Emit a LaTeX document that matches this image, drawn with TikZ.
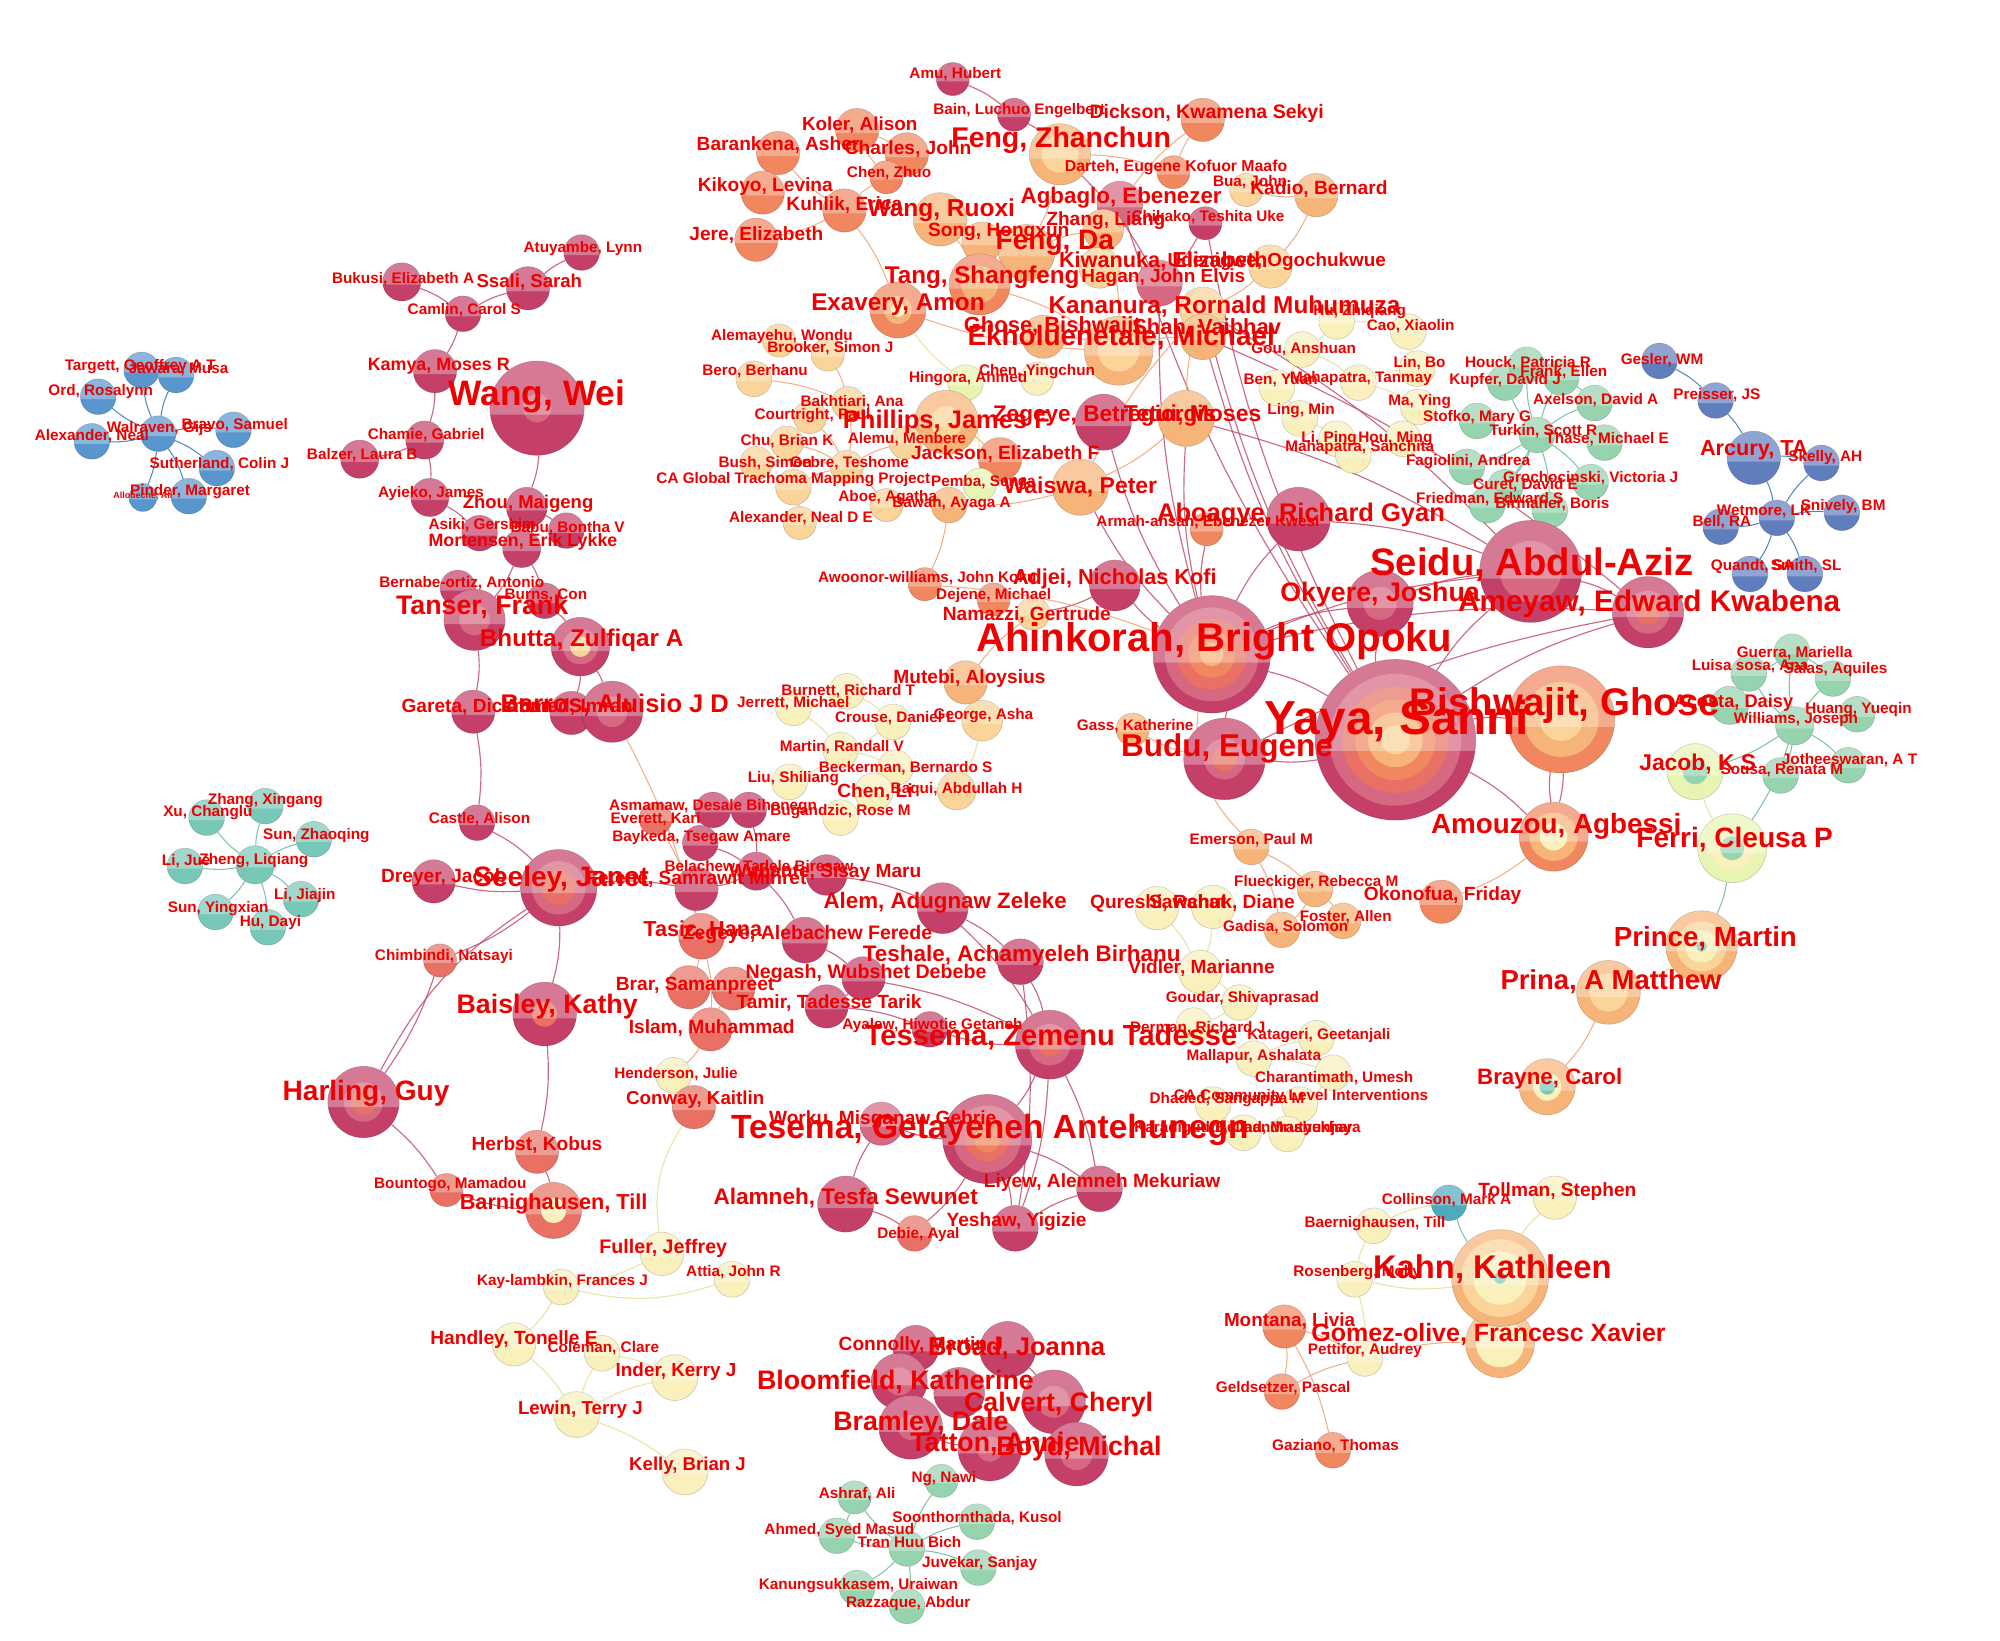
\documentclass[tikz,border=0pt]{standalone}
\usepackage{fontspec}
\setmainfont{Liberation Sans}
\usetikzlibrary{backgrounds}
\definecolor{labred}{RGB}{238,0,0}
\definecolor{crim}{RGB}{196,64,104}
\definecolor{crimL}{RGB}{214,104,130}
\definecolor{salm}{RGB}{232,112,100}
\definecolor{oran}{RGB}{240,135,95}
\definecolor{lora}{RGB}{247,180,120}
\definecolor{peach}{RGB}{250,212,152}
\definecolor{pyel}{RGB}{250,240,188}
\definecolor{ygrn}{RGB}{232,245,178}
\definecolor{mint}{RGB}{150,212,175}
\definecolor{tealc}{RGB}{120,200,185}
\definecolor{tealb}{RGB}{80,170,190}
\definecolor{blu}{RGB}{88,150,205}
\definecolor{blu2}{RGB}{96,125,190}
\definecolor{cEcr}{RGB}{190,70,100}
\definecolor{cEor}{RGB}{240,160,110}
\definecolor{cEyl}{RGB}{238,228,165}
\definecolor{cEgr}{RGB}{125,195,170}
\definecolor{cEbl}{RGB}{80,135,195}
\newcommand\Band[3]{\fill[white,opacity=.3] (#1,#2) ++(8:#3) arc[start angle=8,end angle=-188,radius=#3] -- cycle;}
\newcommand\Nd[5]{\node[nd,fill=#5,minimum size={2*#4}] (#1) at (#2,#3) {};\Band{#2}{#3}{#4}}
\newcommand\Nr[6]{\node[nd,fill=#5,minimum size={2*#4}] (#1) at (#2,#3) {};\foreach \fr/\cl in {#6}{\fill[\cl] (#2,#3) circle[radius={\fr*#4}];}\Band{#2}{#3}{#4}}
\newcommand\Lb[5]{\node[lab,font={\bfseries\fontsize{#4}{#4}\selectfont}] (L#1) at (#2,#3) {#5};}
\newcommand\Ed[3]{\draw[#1] (#2) to[bend left=8] (#3);}
\begin{document}
\begin{tikzpicture}[x=1pt,y=-1pt,
 nd/.style={circle,inner sep=0pt,draw=black,draw opacity=.18,line width=.5pt},
 lab/.style={inner sep=0pt,text=labred},
 ecr/.style={draw=cEcr,line width=.9pt,draw opacity=.8},
 eor/.style={draw=cEor,line width=.8pt,draw opacity=.85},
 eyl/.style={draw=cEyl,line width=.9pt},
 egr/.style={draw=cEgr,line width=.8pt},
 ebl/.style={draw=cEbl,line width=.8pt}]
\useasboundingbox (0,0) rectangle (1568,1286);
\begin{scope}[on background layer]
\fill[white] (0,0) rectangle (1568,1286);
\end{scope}
% ---------- nodes ----------
% blue left
\Nd{walraven}{124}{340}{14}{blu}
\Nd{targett}{111}{290}{14}{blu}
\Nd{jawara}{138}{294}{14}{blu}
\Nd{ord}{77}{311}{14}{blu}
\Nd{alexn}{72}{346}{14}{blu}
\Nd{bravo}{183}{337}{14}{blu}
\Nd{suther}{170}{367}{14}{blu}
\Nd{pinder}{148}{389}{14}{blu}
\Nd{allou}{112}{390}{11}{blu}
% crimson upper left
\Nd{bukusi}{315}{221}{15}{crim}
\Nd{camlin}{363}{246}{14}{crim}
\Nd{ssali}{414}{226}{17}{crim}
\Nd{atuy}{456}{198}{14}{crim}
\Nd{kamya}{341}{291}{17}{crim}
\Nr{wangwei}{421}{320}{37}{crim}{0.3/crimL}
\Nd{chamie}{333}{345}{15}{crim}
\Nd{balzer}{282}{360}{15}{crim}
\Nd{ayieko}{337}{390}{15}{crim}
\Nd{zhou}{413}{398}{16}{crim}
\Nd{asiki}{376}{418}{14}{crim}
\Nd{babu}{444}{416}{14}{crim}
\Nd{morten}{409}{430}{15}{crim}
\Nd{bernabe}{359}{461}{14}{crim}
\Nd{burns}{427}{471}{14}{crim}
\Nr{tanser}{372}{486}{24}{crim}{0.5/crimL}
\Nr{bhutta}{455}{507}{23}{crim}{0.6/crimL,0.35/peach}
\Nd{gareta}{371}{558}{17}{crim}
\Nd{ahmedi}{448}{559}{17}{crim}
\Nr{barros}{480}{558}{24}{crim}{0.5/crimL}
\Nd{castle}{374}{645}{14}{crim}
\Nd{dreyer}{340}{691}{17}{crim}
\Nr{seeley}{438}{696}{30}{crim}{0.7/crimL,0.45/salm}
\Nd{chimb}{345}{753}{13}{salm}
\Nr{baisley}{427}{795}{25}{crim}{0.4/salm}
\Nr{harling}{285}{864}{28}{crim}{0.55/crimL,0.35/salm}
\Nd{bount}{350}{933}{13}{salm}
\Nd{herbst}{421}{903}{17}{salm}
\Nr{barnig}{434}{949}{22}{salm}{0.45/pyel}
% teal left
\Nd{zhengl}{200}{678}{15}{tealc}
\Nd{xu}{162}{641}{14}{tealc}
\Nd{zhangx}{208}{632}{14}{tealc}
\Nd{sunz}{246}{658}{14}{tealc}
\Nd{liju}{145}{679}{14}{tealc}
\Nd{lijia}{236}{705}{14}{tealc}
\Nd{suny}{169}{715}{14}{tealc}
\Nd{hudayi}{210}{727}{14}{tealc}
% top
\Nd{amu}{747}{62}{13}{crim}
\Nd{bain}{795}{90}{13}{crim}
\Nr{fengz}{831}{121}{24}{lora}{0.6/peach}
\Nd{dickson}{943}{94}{17}{oran}
\Nd{koler}{672}{102}{17}{oran}
\Nd{barank}{610}{120}{17}{oran}
\Nd{charles}{711}{121}{17}{oran}
\Nd{chenzhuo}{695}{139}{13}{oran}
\Nd{kikoyo}{598}{151}{17}{oran}
\Nd{kuhlik}{662}{165}{17}{oran}
\Nd{wangruoxi}{737}{172}{21}{lora}
\Nd{song}{770}{190}{16}{lora}
\Nd{jere}{593}{188}{17}{oran}
\Nd{darteh}{920}{135}{13}{oran}
\Nd{bua}{977}{149}{13}{peach}
\Nd{kadio}{1032}{153}{17}{lora}
\Nd{agbaglo}{878}{160}{18}{crimL}
\Nd{chikako}{945}{175}{13}{crim}
\Nd{zhangl}{865}{180}{16}{lora}
\Nd{fengda}{805}{198}{22}{lora}
\Nd{kiwan}{862}{210}{16}{peach}
\Nd{udenigwe}{996}{209}{17}{peach}
\Nd{hagan}{909}{222}{18}{crimL}
\Nr{tang}{768}{223}{24}{oran}{0.6/lora}
\Nr{exavery}{704}{243}{22}{oran}{0.5/lora,0.25/pyel}
\Nd{kananura}{943}{243}{18}{peach}
\Nd{ghose}{818}{264}{17}{lora}
\Nd{shah}{943}{264}{18}{lora}
\Nr{ekhol}{877}{275}{27}{lora}{0.6/peach}
% trachoma
\Nd{alemay}{611}{267}{13}{peach}
\Nd{brooker}{649}{278}{13}{peach}
\Nd{bero}{591}{297}{14}{peach}
\Nd{hingora}{757}{300}{14}{ygrn}
\Nd{chenying}{813}{297}{13}{pyel}
\Nd{bakht}{665}{316}{13}{peach}
\Nd{courtr}{635}{327}{13}{peach}
\Nr{phillips}{742}{331}{25}{lora}{0.5/peach}
\Nd{zegeyeb}{865}{331}{22}{crim}
\Nd{tetui}{930}{328}{22}{lora}
\Nd{chu}{617}{347}{13}{peach}
\Nd{alemu}{710}{347}{13}{peach}
\Nd{jackson}{784}{360}{17}{oran}
\Nd{bush}{593}{363}{13}{peach}
\Nd{gebre}{664}{366}{13}{peach}
\Nd{cagt}{622}{382}{14}{peach}
\Nd{pemba}{768}{380}{13}{ygrn}
\Nd{aboe}{695}{396}{13}{peach}
\Nd{bawah}{744}{396}{14}{lora}
\Nd{alexnde}{627}{410}{13}{peach}
\Nd{waiswa}{847}{382}{22}{lora}
\Nd{aboagye}{1018}{407}{25}{crim}
\Nd{armah}{946}{415}{13}{oran}
% chinese pale
\Nd{huzq}{1048}{252}{14}{pyel}
\Nd{cao}{1104}{260}{14}{pyel}
\Nd{gou}{1021}{274}{14}{pyel}
\Nd{linbo}{1111}{289}{14}{pyel}
\Nd{ben}{1001}{304}{14}{pyel}
\Nd{maht}{1065}{300}{14}{pyel}
\Nd{maying}{1112}{319}{14}{pyel}
\Nd{ling}{1019}{328}{14}{pyel}
\Nd{liping}{1048}{344}{14}{pyel}
\Nd{houming}{1100}{344}{14}{pyel}
\Nd{mahs}{1061}{357}{14}{pyel}
% green depression
\Nd{kupfer}{1180}{300}{14}{mint}
\Nd{houck}{1197}{286}{14}{mint}
\Nd{frank}{1224}{296}{14}{mint}
\Nd{axelson}{1250}{316}{14}{mint}
\Nd{stofko}{1158}{330}{14}{mint}
\Nd{turkin}{1205}{341}{14}{mint}
\Nd{thase}{1258}{347}{14}{mint}
\Nd{fagio}{1150}{366}{14}{mint}
\Nd{curet}{1180}{382}{14}{mint}
\Nd{groch}{1247}{378}{14}{mint}
\Nd{friedman}{1166}{396}{14}{mint}
\Nd{birmaher}{1215}{400}{14}{mint}
% blue right
\Nd{gesler}{1301}{283}{14}{blu2}
\Nd{preisser}{1345}{314}{14}{blu2}
\Nd{arcury}{1375}{359}{21}{blu2}
\Nd{skelly}{1428}{363}{14}{blu2}
\Nd{wetmore}{1393}{406}{14}{blu2}
\Nd{snively}{1444}{402}{14}{blu2}
\Nd{bell}{1349}{413}{14}{blu2}
\Nd{quandt}{1372}{450}{14}{blu2}
\Nd{smith}{1415}{450}{14}{blu2}
% central
\Nd{adjei}{874}{459}{20}{crim}
\Nd{awoonor}{725}{458}{13}{oran}
\Nd{dejene}{779}{470}{13}{oran}
\Nd{namazzi}{810}{481}{13}{peach}
\Nr{seidu}{1200}{448}{40}{crim}{0.6/crimL}
\Nr{okyere}{1082}{473}{26}{crim}{0.5/crimL}
\Nr{ameyaw}{1292}{480}{28}{crim}{0.6/crimL,0.35/salm}
\Nr{ahink}{950}{513}{46}{crim}{0.8/crimL,0.6/salm,0.4/oran,0.2/lora}
\Nr{bishw}{1224}{564}{42}{oran}{0.7/lora,0.4/peach}
\Nr{yaya}{1094}{580}{63}{crim}{0.82/crimL,0.66/salm,0.5/oran,0.34/lora,0.18/peach}
\Nr{budu}{960}{595}{32}{crim}{0.5/crimL,0.3/salm}
\Nd{gass}{888}{572}{13}{lora}
\Nr{amouzou}{1218}{656}{27}{oran}{0.7/lora,0.4/pyel}
\Nd{okonofua}{1130}{707}{17}{oran}
% pale central
\Nd{mutebi}{757}{535}{17}{lora}
\Nd{burnett}{664}{542}{14}{pyel}
\Nd{jerrett}{622}{555}{14}{pyel}
\Nd{crouse}{700}{566}{14}{pyel}
\Nd{george}{770}{565}{16}{peach}
\Nd{martin}{659}{588}{14}{pyel}
\Nd{liush}{619}{613}{14}{pyel}
\Nd{beckerman}{702}{602}{14}{pyel}
\Nd{chenli}{685}{621}{15}{pyel}
\Nd{baqui}{750}{620}{15}{peach}
\Nd{bugan}{659}{641}{14}{pyel}
% ethiopia
\Nd{addisa}{559}{635}{14}{crim}
\Nd{addisb}{587}{635}{14}{crim}
\Nd{everett}{514}{642}{13}{salm}
\Nd{baykeda}{549}{661}{14}{crim}
\Nd{fetene}{546}{697}{17}{crim}
\Nd{belachew}{593}{683}{15}{crim}
\Nd{sisay}{648}{686}{16}{crim}
\Nd{alem}{739}{712}{20}{crim}
\Nd{tasic}{550}{734}{18}{salm}
\Nd{zegeyea}{631}{737}{18}{crim}
\Nd{teshale}{800}{754}{18}{crim}
\Nd{negash}{677}{767}{17}{crim}
\Nd{brar}{540}{774}{17}{salm}
\Nd{brarb}{575}{775}{17}{salm}
\Nd{tamir}{648}{789}{17}{crim}
\Nd{islam}{557}{807}{17}{salm}
\Nd{ayalew}{729}{807}{14}{crim}
\Nr{tessema}{823}{819}{27}{crim}{0.6/crimL,0.35/salm}
\Nd{henderson}{528}{843}{14}{pyel}
\Nd{conway}{544}{868}{17}{salm}
\Nd{worku}{691}{881}{17}{crimL}
\Nr{tesema}{774}{893}{35}{crim}{0.75/crimL,0.5/salm,0.3/oran}
\Nd{alamneh}{663}{944}{22}{crim}
\Nd{debie}{717}{967}{14}{salm}
\Nd{yeshaw}{796}{963}{18}{crim}
\Nd{liyew}{862}{932}{18}{crim}
% lower pale
\Nd{emerson}{981}{664}{14}{lora}
\Nd{flueck}{1031}{697}{14}{lora}
\Nd{qureshi}{907}{712}{17}{pyel}
\Nd{sawchuk}{951}{711}{17}{pyel}
\Nd{foster}{1053}{722}{14}{lora}
\Nd{gadisa}{1005}{729}{14}{lora}
\Nd{vidler}{941}{762}{17}{pyel}
\Nd{goudar}{972}{786}{14}{pyel}
\Nd{derman}{936}{804}{14}{pyel}
\Nd{katageri}{1032}{814}{14}{pyel}
\Nd{mallapur}{983}{830}{14}{pyel}
\Nd{charant}{1045}{841}{14}{pyel}
\Nd{dh}{951}{866}{14}{pyel}
\Nd{caclip}{1019}{866}{14}{pyel}
\Nd{karad}{975}{888}{14}{pyel}
\Nd{bellad}{1009}{889}{14}{pyel}
% right lower
\Nd{guerra}{1405}{511}{14}{mint}
\Nd{luisa}{1371}{528}{14}{mint}
\Nd{salas}{1437}{532}{14}{mint}
\Nd{acosta}{1356}{553}{15}{mint}
\Nd{williams}{1407}{569}{15}{mint}
\Nd{huang}{1456}{560}{14}{mint}
\Nr{jacob}{1329}{605}{22}{ygrn}{0.45/mint}
\Nd{sousa}{1396}{608}{14}{mint}
\Nd{jothe}{1449}{600}{14}{mint}
\Nr{ferri}{1358}{665}{27}{ygrn}{0.65/pyel,0.35/mint}
\Nr{prince}{1334}{742}{28}{lora}{0.7/peach,0.45/pyel,0.15/tealc}
\Nr{prina}{1261}{778}{25}{lora}{0.6/peach}
\Nr{brayne}{1213}{852}{22}{lora}{0.5/pyel,0.28/tealc}
% Kahn
\Nd{collinson}{1136}{943}{14}{tealb}
\Nd{tollman}{1219}{939}{17}{pyel}
\Nd{baern}{1077}{961}{14}{pyel}
\Nd{rosenberg}{1062}{1003}{14}{pyel}
\Nr{gomez}{1176}{1053}{27}{lora}{0.7/pyel}
\Nr{kahn}{1176}{1002}{38}{lora}{0.8/peach,0.55/pyel,0.12/tealc}
\Nd{montana}{1007}{1040}{17}{oran}
\Nd{pettifor}{1070}{1065}{14}{pyel}
\Nd{gelds}{1005}{1091}{14}{oran}
\Nd{gaziano}{1045}{1137}{14}{oran}
% bottom left pale
\Nd{kay}{440}{1009}{14}{pyel}
\Nd{fuller}{519}{983}{17}{pyel}
\Nd{attia}{574}{1003}{14}{pyel}
\Nd{handley}{403}{1054}{17}{pyel}
\Nd{coleman}{472}{1061}{14}{pyel}
\Nd{inder}{529}{1080}{18}{pyel}
\Nd{lewin}{452}{1109}{18}{pyel}
\Nd{kelly}{537}{1154}{18}{pyel}
% bottom crimson
\Nd{connolly}{718}{1057}{18}{crim}
\Nd{joanna}{790}{1058}{22}{crim}
\Nr{bloomf}{705}{1083}{22}{crim}{0.5/crimL}
\Nd{midb}{752}{1092}{20}{crim}
\Nr{calvert}{826}{1099}{25}{crim}{0.5/crimL}
\Nr{bramley}{714}{1119}{25}{crim}{0.4/crimL}
\Nr{tatton}{776}{1136}{25}{crim}{0.4/crimL}
\Nr{boyd}{844}{1140}{25}{crim}{0.5/crimL}
% green bottom
\Nd{ng}{738}{1161}{13}{mint}
\Nd{ashraf}{670}{1174}{13}{mint}
\Nd{soon}{766}{1193}{14}{mint}
\Nd{ahmeds}{656}{1204}{14}{mint}
\Nd{tran}{711}{1214}{14}{mint}
\Nd{juvekar}{767}{1229}{14}{mint}
\Nd{kanung}{672}{1245}{14}{mint}
\Nd{razz}{711}{1259}{14}{mint}
% ---------- edges ----------
\begin{scope}[on background layer]
\foreach \b in {targett,jawara,ord,alexn,bravo,suther,pinder,allou} {\Ed{ebl}{walraven}{\b}}
\foreach \b in {xu,zhangx,sunz,liju,lijia,suny,hudayi} {\Ed{egr}{zhengl}{\b}}
\Ed{ecr}{bukusi}{camlin} \Ed{ecr}{camlin}{ssali} \Ed{ecr}{ssali}{atuy} \Ed{ecr}{camlin}{kamya}
\Ed{ecr}{kamya}{chamie} \Ed{ecr}{chamie}{balzer} \Ed{ecr}{chamie}{ayieko} \Ed{ecr}{wangwei}{zhou}
\Ed{ecr}{ayieko}{asiki} \Ed{ecr}{zhou}{babu} \Ed{ecr}{zhou}{morten} \Ed{ecr}{morten}{tanser}
\Ed{ecr}{tanser}{bernabe} \Ed{ecr}{morten}{burns} \Ed{ecr}{burns}{bhutta} \Ed{ecr}{bhutta}{barros}
\Ed{ecr}{bhutta}{ahmedi} \Ed{ecr}{tanser}{gareta} \Ed{ecr}{gareta}{castle} \Ed{ecr}{castle}{seeley}
\Ed{ecr}{seeley}{dreyer} \Ed{ecr}{seeley}{chimb} \Ed{ecr}{seeley}{baisley} \Ed{ecr}{seeley}{fetene}
\Ed{ecr}{chimb}{harling} \draw[ecr] (harling) to[bend left=14] (seeley);
\Ed{ecr}{harling}{bount} \Ed{ecr}{baisley}{herbst} \Ed{ecr}{herbst}{barnig} \Ed{ecr}{barnig}{bount}
\draw[eor] (barros) to[bend left=6] (tasic);
\Ed{ecr}{addisa}{addisb} \Ed{ecr}{addisa}{baykeda} \Ed{ecr}{addisb}{belachew} \Ed{ecr}{baykeda}{belachew}
\Ed{ecr}{belachew}{fetene} \Ed{ecr}{belachew}{sisay} \Ed{ecr}{belachew}{zegeyea} \Ed{ecr}{sisay}{alem}
\Ed{ecr}{alem}{teshale} \Ed{ecr}{teshale}{tessema} \Ed{ecr}{zegeyea}{negash} \Ed{ecr}{negash}{tamir}
\Ed{ecr}{negash}{tessema} \Ed{ecr}{tamir}{ayalew} \Ed{ecr}{tessema}{ayalew} \Ed{ecr}{tessema}{tesema}
\Ed{ecr}{tessema}{yeshaw} \Ed{ecr}{tesema}{worku} \Ed{ecr}{tesema}{liyew} \Ed{ecr}{tesema}{yeshaw}
\Ed{ecr}{yeshaw}{liyew} \Ed{ecr}{alamneh}{worku} \Ed{ecr}{alamneh}{debie} \Ed{ecr}{tesema}{debie}
\Ed{ecr}{tessema}{liyew} \Ed{ecr}{teshale}{yeshaw} \Ed{ecr}{alem}{tessema}
\Ed{eor}{tasic}{islam} \Ed{eor}{tasic}{brar} \Ed{eor}{brar}{brarb} \Ed{eor}{islam}{brarb}
\Ed{eor}{islam}{henderson} \Ed{eor}{henderson}{conway} \Ed{eor}{everett}{tasic}
\draw[eyl] (conway) to[bend right=20] (fuller);
\Ed{eyl}{fuller}{kay} \draw[eyl] (kay) to[bend right=15] (attia); \Ed{eyl}{kay}{handley} \Ed{eyl}{handley}{lewin}
\Ed{eyl}{lewin}{coleman} \Ed{eyl}{lewin}{inder} \Ed{eyl}{lewin}{kelly} \Ed{eyl}{coleman}{inder}
\foreach \b in {yaya,budu,seidu,okyere,ameyaw,aboagye,adjei,zegeyeb,tetui,hagan,armah,waiswa} {\Ed{ecr}{ahink}{\b}}
\foreach \b in {bishw,budu,seidu,ameyaw,okyere,kananura,shah,agbaglo,chikako,amouzou} {\Ed{ecr}{yaya}{\b}}
\Ed{ecr}{seidu}{ameyaw} \Ed{ecr}{okyere}{seidu} \Ed{ecr}{aboagye}{seidu} \Ed{ecr}{adjei}{namazzi}
\Ed{ecr}{kananura}{seidu} \Ed{ecr}{shah}{ameyaw} \Ed{ecr}{tetui}{seidu} \Ed{ecr}{fengz}{hagan}
\Ed{ecr}{chikako}{hagan} \Ed{ecr}{budu}{ameyaw}
\draw[ecr] (bishw) to[bend left=6] (amouzou); \draw[ecr] (bishw) to[bend right=8] (amouzou);
\Ed{eor}{amouzou}{okonofua} \draw[eor] (ahink) to[bend right=25] (emerson); \Ed{eor}{awoonor}{ahink} \Ed{eor}{budu}{gass}
\Ed{eyl}{mutebi}{george} \Ed{eyl}{george}{baqui} \Ed{eyl}{burnett}{jerrett} \Ed{eyl}{burnett}{crouse}
\Ed{eyl}{crouse}{martin} \Ed{eyl}{martin}{liush} \Ed{eyl}{martin}{beckerman} \Ed{eyl}{beckerman}{chenli}
\Ed{eyl}{chenli}{baqui} \Ed{eyl}{chenli}{bugan} \Ed{eyl}{jerrett}{martin} \Ed{eor}{mutebi}{namazzi}
\Ed{eor}{emerson}{flueck} \Ed{eor}{flueck}{foster} \Ed{eor}{flueck}{gadisa} \Ed{eor}{emerson}{gadisa}
\Ed{eyl}{qureshi}{sawchuk} \Ed{eyl}{qureshi}{vidler} \Ed{eyl}{sawchuk}{vidler} \Ed{eyl}{vidler}{goudar}
\Ed{eyl}{goudar}{derman} \Ed{eyl}{goudar}{mallapur} \Ed{eyl}{derman}{mallapur} \Ed{eyl}{mallapur}{katageri}
\Ed{eyl}{mallapur}{charant} \Ed{eyl}{charant}{caclip} \Ed{eyl}{dh}{caclip} \Ed{eyl}{karad}{bellad} \Ed{eyl}{karad}{dh}
\Ed{eor}{alemay}{brooker} \Ed{eor}{brooker}{bakht} \Ed{eor}{bero}{bakht} \Ed{eor}{bakht}{gebre}
\Ed{eor}{courtr}{gebre} \Ed{eor}{chu}{gebre} \Ed{eor}{bush}{gebre} \Ed{eor}{cagt}{gebre}
\Ed{eor}{gebre}{alemu} \Ed{eor}{gebre}{aboe} \Ed{eor}{aboe}{bawah} \Ed{eor}{cagt}{alexnde}
\Ed{eor}{bawah}{awoonor} \Ed{eor}{alemu}{phillips} \Ed{eor}{phillips}{jackson} \Ed{eor}{jackson}{pemba}
\Ed{eor}{tetui}{waiswa} \Ed{eor}{waiswa}{kananura} \Ed{eor}{tetui}{kananura} \Ed{eyl}{hingora}{exavery}
\Ed{eyl}{hingora}{pemba} \Ed{eor}{waiswa}{bawah}
\Ed{eor}{kuhlik}{exavery} \Ed{eor}{kuhlik}{jere} \Ed{eor}{kuhlik}{barank} \Ed{eor}{barank}{kikoyo}
\Ed{eor}{kuhlik}{chenzhuo} \Ed{eor}{chenzhuo}{koler} \Ed{eor}{koler}{charles} \Ed{eor}{chenzhuo}{charles}
\Ed{eor}{wangruoxi}{tang} \Ed{eor}{tang}{song} \Ed{eor}{wangruoxi}{song} \Ed{ecr}{amu}{bain}
\Ed{ecr}{bain}{fengz} \Ed{eor}{fengz}{darteh} \Ed{eor}{fengz}{fengda} \Ed{eor}{fengda}{zhangl}
\Ed{eor}{darteh}{dickson} \Ed{eor}{agbaglo}{dickson} \Ed{eor}{kadio}{udenigwe} \Ed{eor}{kadio}{bua}
\Ed{eor}{udenigwe}{kananura} \Ed{eor}{hagan}{kiwan} \Ed{eor}{kiwan}{kananura} \Ed{eor}{ghose}{ekhol}
\Ed{eor}{ekhol}{shah} \Ed{eor}{ekhol}{exavery} \Ed{eor}{tang}{ekhol} \Ed{eor}{zhangl}{ekhol}
\Ed{eyl}{huzq}{cao} \Ed{eyl}{huzq}{gou} \Ed{eyl}{gou}{ben} \Ed{eyl}{gou}{maht} \Ed{eyl}{maht}{linbo}
\Ed{eyl}{linbo}{cao} \Ed{eyl}{maht}{maying} \Ed{eyl}{ling}{liping} \Ed{eyl}{liping}{houming}
\Ed{eyl}{houming}{mahs} \Ed{eyl}{mahs}{liping} \Ed{eyl}{ben}{ling} \Ed{eyl}{maying}{houming}
\foreach \b in {kupfer,stofko,frank,axelson,thase,houck,fagio,curet,groch,birmaher,friedman} {\Ed{egr}{turkin}{\b}}
\Ed{egr}{kupfer}{houck} \Ed{egr}{frank}{axelson}
\Ed{ebl}{gesler}{preisser} \Ed{ebl}{preisser}{arcury} \Ed{ebl}{arcury}{wetmore} \Ed{ebl}{arcury}{skelly}
\Ed{ebl}{wetmore}{skelly} \Ed{ebl}{wetmore}{snively} \Ed{ebl}{wetmore}{bell} \Ed{ebl}{wetmore}{quandt} \Ed{ebl}{wetmore}{smith}
\foreach \b in {guerra,luisa,salas,acosta,huang,jothe,sousa,jacob,ferri} {\Ed{egr}{williams}{\b}}
\Ed{egr}{guerra}{luisa} \Ed{egr}{guerra}{salas}
\Ed{eyl}{ferri}{jacob} \Ed{egr}{ferri}{prince} \Ed{eyl}{prince}{prina} \Ed{eor}{prina}{brayne}
\Ed{egr}{kahn}{collinson} \Ed{eyl}{kahn}{tollman} \draw[eyl] (kahn) to[bend left=10] (rosenberg); \Ed{eor}{kahn}{gomez}
\Ed{eyl}{rosenberg}{baern} \Ed{eyl}{baern}{collinson} \Ed{eyl}{rosenberg}{pettifor} \Ed{eor}{montana}{pettifor}
\Ed{eor}{montana}{gelds} \Ed{eor}{montana}{gaziano} \Ed{eor}{pettifor}{gomez} \Ed{eor}{gelds}{pettifor}
\Ed{ecr}{boyd}{calvert} \Ed{ecr}{tatton}{bramley} \Ed{ecr}{bloomf}{connolly} \Ed{ecr}{joanna}{calvert}
\foreach \b in {ng,ashraf,soon,ahmeds,juvekar,kanung,razz} {\Ed{egr}{tran}{\b}}
\Ed{egr}{ashraf}{ahmeds}
\end{scope}
% ---------- labels ----------
\Lb{targett}{110}{287}{12}{Targett, Geoffrey A T}
\Lb{jawara}{140}{290}{12}{Jawara, Musa}
\Lb{ord}{79}{307}{12}{Ord, Rosalynn}
\Lb{alexn}{72}{342}{12}{Alexander, Neal}
\Lb{bravo}{184}{333}{12}{Bravo, Samuel}
\Lb{walraven}{125}{336}{12}{Walraven, Gijs}
\Lb{suther}{172}{364}{12}{Sutherland, Colin J}
\Lb{pinder}{149}{385}{12}{Pinder, Margaret}
\Lb{allou}{112}{389}{7}{Alloueche, Ali}
\Lb{bukusi}{316}{219}{12}{Bukusi, Elizabeth A}
\Lb{camlin}{364}{243}{12}{Camlin, Carol S}
\Lb{ssali}{415}{221}{14.6}{Ssali, Sarah}
\Lb{atuy}{457}{195}{12}{Atuyambe, Lynn}
\Lb{kamya}{344}{287}{14}{Kamya, Moses R}
\Lb{wangwei}{421}{311}{27.7}{Wang, Wei}
\Lb{chamie}{334}{341}{12}{Chamie, Gabriel}
\Lb{balzer}{284}{357}{12}{Balzer, Laura B}
\Lb{ayieko}{338}{387}{12}{Ayieko, James}
\Lb{zhou}{414}{395}{14.5}{Zhou, Maigeng}
\Lb{morten}{410}{425}{14}{Mortensen, Erik Lykke}
\Lb{asiki}{378}{412}{12}{Asiki, Gershim}
\Lb{babu}{445}{414}{12}{Babu, Bontha V}
\Lb{bernabe}{362}{457}{12}{Bernabe-ortiz, Antonio}
\Lb{tanser}{378}{476}{21}{Tanser, Frank}
\Lb{burns}{428}{467}{12}{Burns, Con}
\Lb{bhutta}{456}{502}{19}{Bhutta, Zulfiqar A}
\Lb{barros}{482}{553}{20}{Barros, Aluisio J D}
\Lb{gareta}{374}{554}{15}{Gareta, Dickman}
\Lb{ahmedi}{446}{554}{15}{Ahmed, Imran}
\Lb{castle}{376}{642}{12}{Castle, Alison}
\Lb{dreyer}{348}{688}{15}{Dreyer, Jacob}
\Lb{seeley}{440}{689}{22}{Seeley, Janet}
\Lb{chimb}{348}{750}{12}{Chimbindi, Natsayi}
\Lb{baisley}{429}{789}{21}{Baisley, Kathy}
\Lb{harling}{287}{857}{22}{Harling, Guy}
\Lb{bount}{353}{929}{12}{Bountogo, Mamadou}
\Lb{herbst}{421}{898}{15}{Herbst, Kobus}
\Lb{barnig}{434}{944}{17}{Barnighausen, Till}
\Lb{xu}{163}{637}{12}{Xu, Changlu}
\Lb{zhangx}{208}{628}{12}{Zhang, Xingang}
\Lb{sunz}{248}{655}{12}{Sun, Zhaoqing}
\Lb{liju}{146}{675}{12}{Li, Jue}
\Lb{zhengl}{199}{675}{12}{Zheng, Liqiang}
\Lb{lijia}{239}{702}{12}{Li, Jiajin}
\Lb{suny}{171}{712}{12}{Sun, Yingxian}
\Lb{hudayi}{212}{723}{12}{Hu, Dayi}
\Lb{amu}{749}{58}{12}{Amu, Hubert}
\Lb{bain}{799}{87}{12}{Bain, Luchuo Engelbert}
\Lb{dickson}{946}{89}{15.3}{Dickson, Kwamena Sekyi}
\Lb{fengz}{832}{110}{22.3}{Feng, Zhanchun}
\Lb{koler}{674}{98}{14.8}{Koler, Alison}
\Lb{charles}{712}{117}{15}{Charles, John}
\Lb{barank}{610}{114}{15}{Barankena, Asher}
\Lb{chenzhuo}{697}{136}{12}{Chen, Zhuo}
\Lb{kikoyo}{600}{146}{15}{Kikoyo, Levina}
\Lb{wangruoxi}{738}{165}{19.2}{Wang, Ruoxi}
\Lb{kuhlik}{662}{161}{15}{Kuhlik, Erica}
\Lb{fengda}{827}{190}{22}{Feng, Da}
\Lb{song}{783}{182}{15}{Song, Hongxun}
\Lb{jere}{593}{184}{15}{Jere, Elizabeth}
\Lb{darteh}{922}{131}{12.4}{Darteh, Eugene Kofuor Maafo}
\Lb{kadio}{1034}{148}{15}{Kadio, Bernard}
\Lb{bua}{980}{143}{12}{Bua, John}
\Lb{agbaglo}{879}{155}{17.5}{Agbaglo, Ebenezer}
\Lb{zhangl}{867}{173}{15}{Zhang, Liang}
\Lb{chikako}{947}{170}{12}{Chikako, Teshita Uke}
\Lb{kiwan}{912}{205}{17}{Kiwanuka, Elizabeth}
\Lb{udenigwe}{1001}{205}{14.8}{Udenigwe, Ogochukwue}
\Lb{tang}{770}{217}{19}{Tang, Shangfeng}
\Lb{hagan}{912}{218}{14.9}{Hagan, John Elvis}
\Lb{exavery}{704}{239}{19}{Exavery, Amon}
\Lb{kananura}{960}{240}{19.1}{Kananura, Rornald Muhumuza}
\Lb{ekhol}{879}{265}{21.9}{Ekholuenetale, Michael}
\Lb{shah}{946}{257}{17.2}{Shah, Vaibhav}
\Lb{ghose}{825}{256}{17.2}{Ghose, Bishwajit}
\Lb{alemay}{613}{264}{12}{Alemayehu, Wondu}
\Lb{brooker}{651}{273}{12}{Brooker, Simon J}
\Lb{bero}{592}{291}{12}{Bero, Berhanu}
\Lb{hingora}{759}{297}{12}{Hingora, Ahmed}
\Lb{chenying}{813}{291}{12}{Chen, Yingchun}
\Lb{bakht}{668}{315}{12}{Bakhtiari, Ana}
\Lb{courtr}{637}{326}{12}{Courtright, Paul}
\Lb{phillips}{742}{331}{20}{Phillips, James F}
\Lb{tetui}{935}{325}{18}{Tetui, Moses}
\Lb{zegeyeb}{866}{326}{17.7}{Zegeye, Betregiorgis}
\Lb{chu}{617}{346}{12}{Chu, Brian K}
\Lb{alemu}{711}{344}{12}{Alemu, Menbere}
\Lb{jackson}{788}{356}{15}{Jackson, Elizabeth F}
\Lb{bush}{600}{363}{12}{Bush, Simon}
\Lb{gebre}{666}{363}{12}{Gebre, Teshome}
\Lb{cagt}{622}{376}{12}{CA Global Trachoma Mapping Project}
\Lb{pemba}{771}{378}{12}{Pemba, Senga}
\Lb{aboe}{696}{390}{12}{Aboe, Agatha}
\Lb{bawah}{746}{395}{12}{Bawah, Ayaga A}
\Lb{alexnde}{628}{406}{12}{Alexander, Neal D E}
\Lb{waiswa}{847}{382}{18}{Waiswa, Peter}
\Lb{aboagye}{1020}{404}{20}{Aboagye, Richard Gyan}
\Lb{armah}{947}{409}{12}{Armah-ansah, Ebenezer Kwesi}
\Lb{huzq}{1066}{244}{12}{Hu, Zhiqiang}
\Lb{cao}{1106}{256}{12}{Cao, Xiaolin}
\Lb{gou}{1022}{274}{12}{Gou, Anshuan}
\Lb{linbo}{1113}{285}{12}{Lin, Bo}
\Lb{ben}{1004}{298}{12}{Ben, Yuan}
\Lb{maht}{1067}{297}{12}{Mahapatra, Tanmay}
\Lb{maying}{1113}{315}{12}{Ma, Ying}
\Lb{ling}{1020}{322}{12}{Ling, Min}
\Lb{mahs}{1066}{351}{12}{Mahapatra, Sanchita}
\Lb{liping}{1042}{344}{12}{Li, Ping}
\Lb{houming}{1094}{344}{12}{Hou, Ming}
\Lb{houck}{1198}{285}{12}{Houck, Patricia R}
\Lb{kupfer}{1180}{298}{12}{Kupfer, David J}
\Lb{frank}{1226}{292}{12}{Frank, Ellen}
\Lb{axelson}{1251}{314}{12}{Axelson, David A}
\Lb{stofko}{1158}{327}{12}{Stofko, Mary G}
\Lb{turkin}{1210}{338}{12}{Turkin, Scott R}
\Lb{thase}{1260}{344}{12}{Thase, Michael E}
\Lb{fagio}{1151}{362}{12}{Fagiolini, Andrea}
\Lb{curet}{1196}{380}{12}{Curet, David E}
\Lb{groch}{1247}{375}{12}{Grochocinski, Victoria J}
\Lb{friedman}{1168}{391}{12}{Friedman, Edward S}
\Lb{birmaher}{1217}{395}{12}{Birmaher, Boris}
\Lb{gesler}{1303}{282}{12}{Gesler, WM}
\Lb{preisser}{1346}{310}{12}{Preisser, JS}
\Lb{arcury}{1375}{353}{17}{Arcury, TA}
\Lb{skelly}{1431}{359}{12}{Skelly, AH}
\Lb{wetmore}{1383}{401}{12}{Wetmore, LK}
\Lb{snively}{1445}{397}{12}{Snively, BM}
\Lb{bell}{1350}{409}{12}{Bell, RA}
\Lb{smith}{1416}{444}{12}{Smith, SL}
\Lb{quandt}{1374}{444}{12}{Quandt, SA}
\Lb{adjei}{874}{454}{17}{Adjei, Nicholas Kofi}
\Lb{awoonor}{727}{453}{12}{Awoonor-williams, John Koku}
\Lb{dejene}{779}{467}{12}{Dejene, Michael}
\Lb{namazzi}{805}{482}{15}{Namazzi, Gertrude}
\Lb{seidu}{1201}{443}{30}{Seidu, Abdul-Aziz}
\Lb{okyere}{1082}{466}{21}{Okyere, Joshua}
\Lb{ameyaw}{1293}{473}{23.3}{Ameyaw, Edward Kwabena}
\Lb{ahink}{952}{503}{31.4}{Ahinkorah, Bright Opoku}
\Lb{yaya}{1095}{566}{37.4}{Yaya, Sanni}
\Lb{budu}{962}{587}{24.7}{Budu, Eugene}
\Lb{gass}{890}{569}{12}{Gass, Katherine}
\Lb{bishw}{1227}{553}{30.2}{Bishwajit, Ghose}
\Lb{amouzou}{1220}{648}{21.8}{Amouzou, Agbessi}
\Lb{okonofua}{1131}{702}{15}{Okonofua, Friday}
\Lb{mutebi}{760}{532}{15}{Mutebi, Aloysius}
\Lb{burnett}{665}{542}{12}{Burnett, Richard T}
\Lb{jerrett}{622}{551}{12}{Jerrett, Michael}
\Lb{crouse}{702}{563}{12}{Crouse, Daniel L}
\Lb{george}{771}{561}{12}{George, Asha}
\Lb{martin}{660}{586}{12}{Martin, Randall V}
\Lb{liush}{622}{610}{12}{Liu, Shiliang}
\Lb{beckerman}{710}{602}{12}{Beckerman, Bernardo S}
\Lb{chenli}{686}{621}{15}{Chen, Li}
\Lb{baqui}{750}{619}{12}{Baqui, Abdullah H}
\Lb{bugan}{659}{636}{12}{Bugandzic, Rose M}
\Lb{addisa}{559}{632}{12}{Asmamaw, Desale Bihonegn}
\Lb{everett}{514}{642}{12}{Everett, Kari}
\Lb{baykeda}{550}{657}{12}{Baykeda, Tsegaw Amare}
\Lb{fetene}{546}{689}{15}{Fetene, Samrawit Mihret}
\Lb{sisay}{647}{684}{15}{Wubante, Sisay Maru}
\Lb{belachew}{595}{680}{12}{Belachew, Tadele Biresaw}
\Lb{alem}{741}{708}{17.5}{Alem, Adugnaw Zeleke}
\Lb{tasic}{551}{729}{17}{Tasic, Hana}
\Lb{zegeyea}{633}{733}{15.3}{Zegeye, Alebachew Ferede}
\Lb{teshale}{801}{749}{17.6}{Teshale, Achamyeleh Birhanu}
\Lb{negash}{679}{763}{15.4}{Negash, Wubshet Debebe}
\Lb{brar}{545}{773}{15}{Brar, Samanpreet}
\Lb{tamir}{650}{786}{15}{Tamir, Tadesse Tarik}
\Lb{islam}{558}{806}{15}{Islam, Muhammad}
\Lb{tessema}{824}{813}{22.8}{Tessema, Zemenu Tadesse}
\Lb{ayalew}{731}{804}{12}{Ayalew, Hiwotie Getaneh}
\Lb{henderson}{530}{842}{12}{Henderson, Julie}
\Lb{conway}{545}{862}{14.7}{Conway, Kaitlin}
\Lb{tesema}{776}{886}{26.3}{Tesema, Getayeneh Antehunegn}
\Lb{worku}{692}{878}{15}{Worku, Misganaw Gebrie}
\Lb{alamneh}{663}{939}{17.7}{Alamneh, Tesfa Sewunet}
\Lb{debie}{720}{968}{12}{Debie, Ayal}
\Lb{yeshaw}{797}{958}{15}{Yeshaw, Yigizie}
\Lb{liyew}{864}{927}{15}{Liyew, Alemneh Mekuriaw}
\Lb{emerson}{981}{659}{12}{Emerson, Paul M}
\Lb{flueck}{1032}{692}{12}{Flueckiger, Rebecca M}
\Lb{sawchuk}{958}{708}{15}{Sawchuk, Diane}
\Lb{qureshi}{908}{708}{15}{Qureshi, Rahat}
\Lb{foster}{1055}{719}{12}{Foster, Allen}
\Lb{gadisa}{1008}{727}{12}{Gadisa, Solomon}
\Lb{vidler}{942}{759}{15}{Vidler, Marianne}
\Lb{goudar}{974}{783}{12}{Goudar, Shivaprasad}
\Lb{derman}{939}{806}{12}{Derman, Richard J}
\Lb{katageri}{1034}{812}{12}{Katageri, Geetanjali}
\Lb{mallapur}{983}{828}{12}{Mallapur, Ashalata}
\Lb{charant}{1046}{845}{12}{Charantimath, Umesh}
\Lb{dh}{962}{862}{12}{Dhaded, Sangappa M}
\Lb{caclip}{1020}{860}{12}{CA Community Level Interventions}
\Lb{karad}{975}{885}{12}{Karadiguddi, Chandrashekhar}
\Lb{bellad}{1010}{885}{12}{Bellad, Mrutyunjaya}
\Lb{guerra}{1407}{512}{12}{Guerra, Mariella}
\Lb{salas}{1439}{525}{12}{Salas, Aquiles}
\Lb{luisa}{1372}{522}{12}{Luisa sosa, Ana}
\Lb{acosta}{1359}{551}{14.3}{Acosta, Daisy}
\Lb{huang}{1457}{556}{12}{Huang, Yueqin}
\Lb{williams}{1408}{564}{12}{Williams, Joseph}
\Lb{jacob}{1331}{599}{17.9}{Jacob, K S}
\Lb{sousa}{1397}{604}{12}{Sousa, Renata M}
\Lb{jothe}{1450}{596}{12}{Jotheeswaran, A T}
\Lb{ferri}{1360}{658}{22}{Ferri, Cleusa P}
\Lb{prince}{1337}{736}{21.7}{Prince, Martin}
\Lb{prina}{1263}{770}{21.5}{Prina, A Matthew}
\Lb{brayne}{1215}{846}{17.5}{Brayne, Carol}
\Lb{collinson}{1134}{941}{12}{Collinson, Mark A}
\Lb{tollman}{1221}{934}{15}{Tollman, Stephen}
\Lb{baern}{1078}{959}{12}{Baernighausen, Till}
\Lb{rosenberg}{1064}{998}{12}{Rosenberg, Molly}
\Lb{kahn}{1170}{995}{25.7}{Kahn, Kathleen}
\Lb{montana}{1011}{1036}{14.8}{Montana, Livia}
\Lb{gomez}{1167}{1046}{19.6}{Gomez-olive, Francesc Xavier}
\Lb{pettifor}{1070}{1059}{12}{Pettifor, Audrey}
\Lb{gelds}{1006}{1088}{12}{Geldsetzer, Pascal}
\Lb{gaziano}{1047}{1134}{12}{Gaziano, Thomas}
\Lb{kay}{441}{1005}{12}{Kay-lambkin, Frances J}
\Lb{fuller}{520}{979}{15.4}{Fuller, Jeffrey}
\Lb{attia}{575}{997}{12}{Attia, John R}
\Lb{handley}{403}{1050}{15}{Handley, Tonelle E}
\Lb{coleman}{473}{1057}{12}{Coleman, Clare}
\Lb{inder}{530}{1075}{14.8}{Inder, Kerry J}
\Lb{lewin}{455}{1105}{14.7}{Lewin, Terry J}
\Lb{kelly}{539}{1149}{14.6}{Kelly, Brian J}
\Lb{joanna}{797}{1057}{20}{Broad, Joanna}
\Lb{connolly}{722}{1055}{15}{Connolly, Martin J}
\Lb{bloomf}{702}{1083}{21}{Bloomfield, Katherine}
\Lb{calvert}{830}{1101}{21}{Calvert, Cheryl}
\Lb{boyd}{846}{1136}{21}{Boyd, Michal}
\Lb{tatton}{780}{1132}{21}{Tatton, Annie}
\Lb{bramley}{722}{1116}{21}{Bramley, Dale}
\Lb{ng}{740}{1159}{12}{Ng, Nawi}
\Lb{ashraf}{672}{1171}{12}{Ashraf, Ali}
\Lb{soon}{766}{1190}{12}{Soonthornthada, Kusol}
\Lb{ahmeds}{658}{1200}{12}{Ahmed, Syed Masud}
\Lb{tran}{713}{1209}{12}{Tran Huu Bich}
\Lb{juvekar}{768}{1226}{12}{Juvekar, Sanjay}
\Lb{kanung}{673}{1243}{12}{Kanungsukkasem, Uraiwan}
\Lb{razz}{712}{1257}{12}{Razzaque, Abdur}
\end{tikzpicture}
\end{document}
